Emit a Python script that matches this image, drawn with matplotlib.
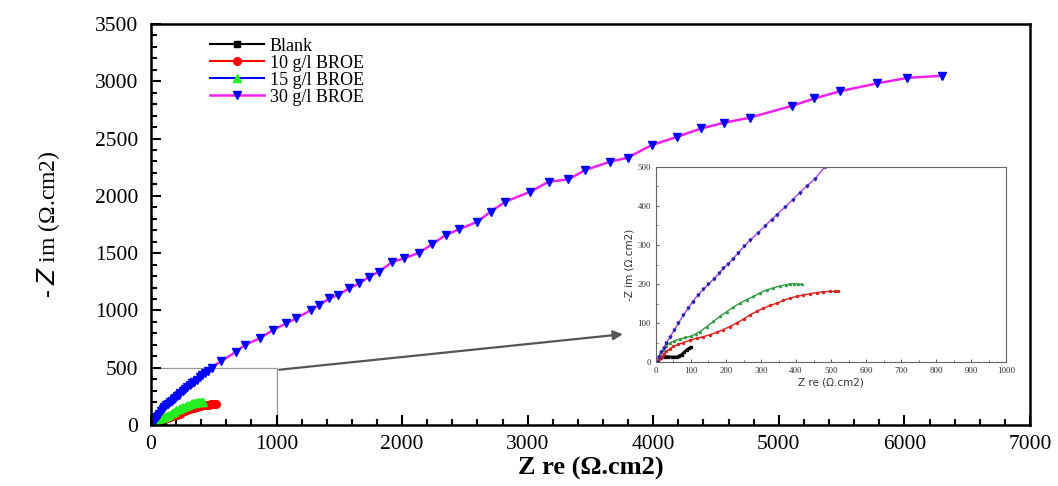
import matplotlib.pyplot as plt
from matplotlib.ticker import MultipleLocator
from matplotlib.patches import Rectangle

# Nyquist data
blank_zre = [0, 5, 11, 18, 26, 35, 45, 52, 59, 66, 73, 80, 88, 94, 99]
blank_zim = [0, 5, 10, 13, 14, 14, 13, 13, 13, 16, 19, 25, 32, 35, 38]

broe10_zre = [0, 8, 16, 23, 30, 40, 50, 63, 78, 97, 116, 135, 154, 173, 192, 211,
              230, 250, 269, 288, 307, 326, 345, 364, 383, 402, 421, 440, 459, 478,
              497, 510, 521]
broe10_zim = [0, 7, 14, 21, 27, 34, 40, 45, 50, 56, 61, 65, 70, 76, 83, 91,
              100, 110, 121, 130, 138, 145, 151, 158, 164, 168, 172, 175, 178, 180,
              181, 181, 181]

broe15_zre = [0, 6, 12, 21, 30, 40, 52, 69, 84, 99, 113, 126, 145, 164, 183, 202,
              221, 240, 259, 278, 297, 316, 335, 354, 370, 383, 395, 405, 416]
broe15_zim = [0, 12, 22, 32, 42, 49, 54, 59, 63, 66, 72, 78, 91, 104, 117, 129,
              141, 151, 160, 168, 177, 185, 190, 195, 198, 200, 201, 200, 199]

broe30_zre = [0, 8, 15, 22, 30, 40, 52, 64, 78, 92, 105, 120, 135, 150, 165, 180,
              192, 206, 220, 235, 252, 268, 290, 310, 330, 345, 368, 390, 410, 432,
              454, 482, 561, 680, 746, 865, 971, 1077, 1156, 1275, 1341, 1421, 1487,
              1579, 1659, 1738, 1817, 1923, 2016, 2135, 2241, 2346, 2452, 2598, 2704,
              2823, 3021, 3167, 3325, 3458, 3656, 3796, 3987, 4193, 4383, 4563, 4767,
              5106, 5283, 5490, 5780, 6024, 6296]
broe30_zim = [0, 14, 26, 37, 50, 64, 82, 100, 120, 138, 155, 172, 186, 200, 213, 227,
              240, 252, 265, 280, 297, 312, 330, 348, 365, 378, 397, 416, 434, 452,
              470, 500, 560, 640, 698, 756, 829, 887, 931, 1003, 1047, 1105, 1134,
              1193, 1236, 1294, 1338, 1425, 1454, 1504, 1579, 1658, 1707, 1774, 1861,
              1949, 2036, 2123, 2144, 2225, 2298, 2333, 2443, 2516, 2589, 2638, 2682,
              2786, 2850, 2914, 2981, 3030, 3048]

labels = ['Blank', '10 g/l BROE', '15 g/l BROE', '30 g/l BROE']

plt.rcParams['font.family'] = ['Liberation Serif', 'DejaVu Serif']

fig = plt.figure(figsize=(10.58, 4.86), dpi=100)
ax = fig.add_axes([0.1427, 0.1255, 0.8308, 0.8251])

ax.plot(blank_zre, blank_zim, '-s', color='black', mfc='black', mec='black', ms=5, lw=1.5, label=labels[0])
ax.plot(broe10_zre, broe10_zim, '-o', color='red', mfc='red', mec='red', ms=5.5, lw=1.5, label=labels[1])
ax.plot(broe15_zre, broe15_zim, '-^', color='blue', mfc='#22ee22', mec='#22ee22', ms=5.5, lw=1.5, label=labels[2])
ax.plot(broe30_zre, broe30_zim, '-v', color='#ee22ee', mfc='blue', mec='blue', ms=6, lw=1.8, label=labels[3])

ax.set_xlim(0, 7000)
ax.set_ylim(0, 3500)
ax.xaxis.set_major_locator(MultipleLocator(1000))
ax.xaxis.set_minor_locator(MultipleLocator(200))
ax.yaxis.set_major_locator(MultipleLocator(500))
ax.yaxis.set_minor_locator(MultipleLocator(100))
ax.tick_params(which='both', direction='in', width=1.5, labelsize=15.5)
ax.tick_params(which='major', length=7)
ax.tick_params(which='minor', length=4)
ax.tick_params(axis='x', pad=7)
ax.tick_params(axis='y', pad=9)
for s in ax.spines.values():
    s.set_linewidth(1.8)

ax.set_xlabel('Z re (Ω.cm2)', fontsize=19, fontweight='bold', labelpad=2)
ax.set_ylabel('- $\\it{Z}$ im (Ω.cm2)', fontsize=17, labelpad=24)

leg = ax.legend(loc='upper left', bbox_to_anchor=(0.052, 1.0), frameon=False, fontsize=13,
                handlelength=3.0, labelspacing=0.0, handletextpad=0.3, borderpad=0.25)

# zoom box + arrow to inset
ax.add_patch(Rectangle((0, 0), 1000, 500, fill=False, ec='#999999', lw=0.9))
ax.annotate('', xy=(3780, 795), xytext=(1000, 480),
            arrowprops=dict(arrowstyle='-|>', color='#555555', lw=1.6, mutation_scale=14))

# inset
ins = fig.add_axes([0.620, 0.2551, 0.331, 0.4013])
ins.plot(blank_zre, blank_zim, '-s', color='black', ms=1.5, lw=1.8)
ins.plot(broe10_zre, broe10_zim, '-o', color='#dd2222', ms=1.5, lw=1.0)
ins.plot(broe15_zre, broe15_zim, '-^', color='#339944', mfc='#22cc22', ms=1.5, lw=1.0)
ins.plot(broe30_zre, broe30_zim, '-v', color='#aa44dd', mfc='#2222aa', mec='#2222aa', ms=2, lw=1.0)
ins.set_xlim(0, 1000)
ins.set_ylim(0, 500)
ins.xaxis.set_major_locator(MultipleLocator(100))
ins.xaxis.set_minor_locator(MultipleLocator(50))
ins.yaxis.set_major_locator(MultipleLocator(100))
ins.yaxis.set_minor_locator(MultipleLocator(50))
ins.tick_params(which='both', direction='in', labelsize=6.5, colors='#555555', labelcolor='#333333')
ins.tick_params(which='major', length=2.5, width=0.7)
ins.tick_params(which='minor', length=1.5, width=0.6)
for s in ins.spines.values():
    s.set_linewidth(0.8)
    s.set_color('#666666')
ins.set_xlabel('Z re (Ω.cm2)', fontsize=7.5, family='DejaVu Sans', color='#333333', labelpad=2)
ins.set_ylabel('-Z im (Ω.cm2)', fontsize=7.5, family='DejaVu Sans', color='#333333', labelpad=2)

plt.savefig('out.png', dpi=100)
